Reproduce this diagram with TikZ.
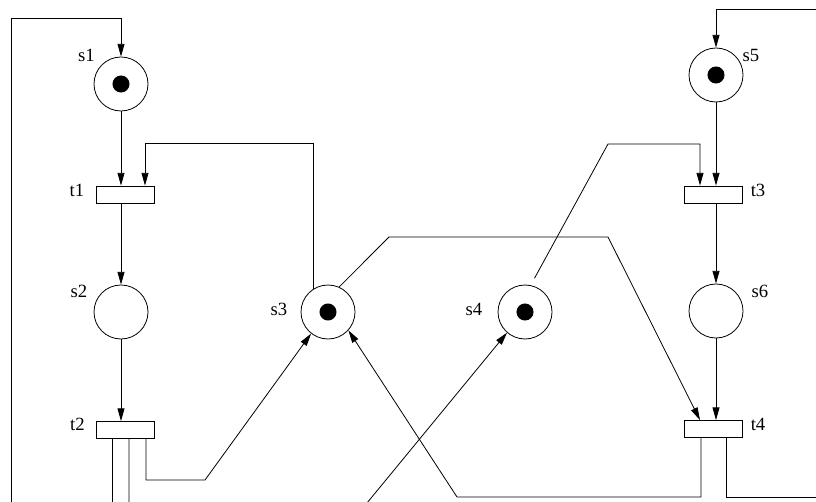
\documentclass[tikz,border=0pt]{standalone}
\usepackage{fontspec}
\setmainfont{Liberation Serif}
\usetikzlibrary{arrows.meta,positioning,calc}

\begin{document}
\begin{tikzpicture}[x=0.75pt, y=-0.75pt, line width=0.6pt,
  every node/.style={font=\fontsize{14}{16}\selectfont},
  place/.style={circle, draw, minimum size=40.5pt, inner sep=0pt},
  marked/.style={place, path picture={\fill (path picture bounding box.center) circle (6.4pt);}},
  transition/.style={draw, rectangle, minimum width=43.5pt, minimum height=12.75pt, inner sep=0pt},
  arc/.style={-{Triangle[length=9.5pt,width=5.2pt]}}]
  \useasboundingbox (0,0) rectangle (816,502);
  \clip (0,0) rectangle (816,502);
  \fill[white] (0,0) rectangle (816,502);

  \node[marked] (s1) at (121,84) {};
  \node[transition] (t1) at (125,194.5) {};
  \node[place] (s2) at (121,312) {};
  \node[transition] (t2) at (125,430) {};
  \node[marked] (s3) at (328,312) {};
  \node[marked] (s4) at (525,312) {};
  \node[marked] (s5) at (716,75) {};
  \node[transition] (t3) at (713,194.5) {};
  \node[place] (s6) at (716,311) {};
  \node[transition] (t4) at (713,429) {};

  \node (s1l) at (86.5,55) {s1};
  \node (t1l) at (77,190) {t1};
  \node (s2l) at (79,291) {s2};
  \node (t2l) at (77.5,424) {t2};
  \node (s3l) at (279,309) {s3};
  \node (s4l) at (474,309) {s4};
  \node (s5l) at (751,55) {s5};
  \node (t3l) at (758,190) {t3};
  \node (s6l) at (760,291) {s6};
  \node (t4l) at (758,424) {t4};

  \draw[arc] (s1.south) -- (s1.south |- t1.north);
  \draw[arc] (s3.122) |- ($(t1.north)+(20,-42)$) -- ($(t1.north)+(20,0)$);
  \draw[arc] (s2.north |- t1.south) -- (s2.north);
  \draw[arc] (s2.south) -- (s2.south |- t2.north);
  \draw[arc] ($(t2.south)+(21,0)$) |- (205,480) -- (s3.232);
  \draw[arc] ($(t2.south)+(-13,0)$) |- (11,530) -- (11,18) -| (s1.north);
  \draw[arc] ($(t2.south)+(4,0)$) |- (353,520) -- (s4.229);
  \draw[arc] (s3.66) -- (389,237) -- (608,237) -- ($(t4.north)+(-13,0)$);
  \draw[arc, shorten <=6pt] (s4.78) -- (608,144) -| ($(t3.north)+(-13,0)$);
  \draw[arc] (s5.south) -- (s5.south |- t3.north);
  \draw[arc] (s6.north |- t3.south) -- (s6.north);
  \draw[arc] (s6.south) -- (s6.south |- t4.north);
  \draw[arc] ($(t4.south)+(-12,0)$) |- (457,497) -- (s3.318);
  \draw[arc] ($(t4.south)+(13,0)$) |- (840,497) -- (840,9) -| (s5.north);
\end{tikzpicture}
\end{document}
